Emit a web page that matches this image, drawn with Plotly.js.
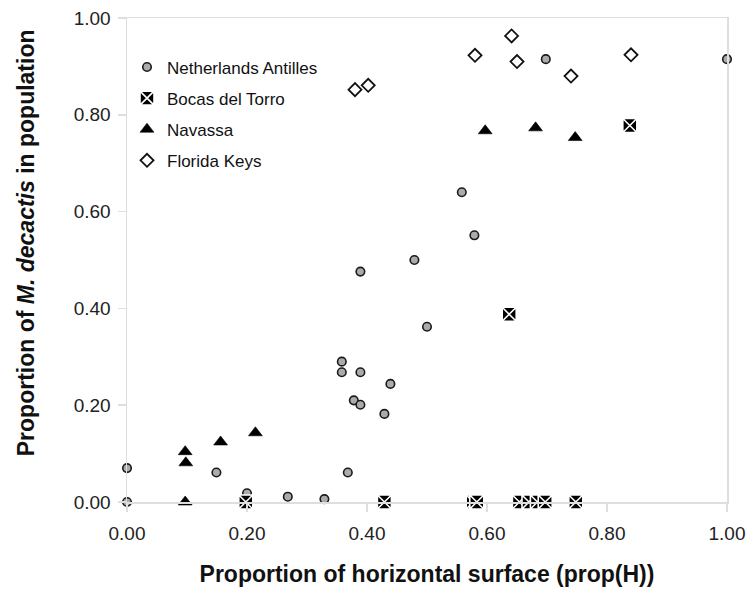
<!DOCTYPE html>
<html>
<head>
<meta charset="utf-8">
<script src="https://cdn.plot.ly/plotly-3.0.1.min.js"></script>
<style>html,body{margin:0;padding:0;background:#fff;}#chart{width:753px;height:594px;}</style>
</head>
<body>
<div id="chart"></div>
<script>
// Netherlands Antilles
const naX = [0.000, 0.000, 0.149, 0.200, 0.268, 0.329, 0.368, 0.358, 0.358, 0.389, 0.378, 0.389, 0.429, 0.439, 0.389, 0.479, 0.500, 0.558, 0.579, 0.698, 1.000];
const naY = [0.070, 0.000, 0.061, 0.018, 0.011, 0.006, 0.061, 0.290, 0.268, 0.268, 0.210, 0.201, 0.182, 0.244, 0.476, 0.500, 0.362, 0.640, 0.551, 0.915, 0.915];
// Bocas del Torro
const bdtX = [0.198, 0.429, 0.577, 0.583, 0.654, 0.670, 0.684, 0.697, 0.748, 0.637, 0.838];
const bdtY = [0.000, 0.000, 0.000, 0.000, 0.000, 0.000, 0.000, 0.000, 0.000, 0.388, 0.778];
// Navassa
const navX = [0.097, 0.098, 0.097, 0.156, 0.214, 0.597, 0.681, 0.747];
const navY = [0.104, 0.081, 0.000, 0.124, 0.143, 0.767, 0.773, 0.753];
// Florida Keys
const fkX = [0.380, 0.402, 0.580, 0.641, 0.650, 0.740, 0.840];
const fkY = [0.852, 0.861, 0.923, 0.963, 0.910, 0.880, 0.924];

const tickVals = [0, 0.2, 0.4, 0.6, 0.8, 1.0];
const tickText = ["0.00", "0.20", "0.40", "0.60", "0.80", "1.00"];

const FONT = "Liberation Sans, Arial, Helvetica, sans-serif";

const traces = [
  {x: naX, y: naY, name: "Netherlands Antilles", type: "scatter", mode: "markers", cliponaxis: false,
   legendgroup: "a",
   marker: {symbol: "circle", size: 8.5, color: "#ababab", line: {color: "#1a1a1a", width: 1.6}}},
  {x: bdtX, y: bdtY, name: "Bocas del Torro", type: "scatter", mode: "markers", cliponaxis: false,
   legendgroup: "b",
   marker: {symbol: "square-x", size: 14, color: "#000000", line: {color: "#ffffff", width: 1.6}}},
  {x: navX, y: navY, name: "Navassa", type: "scatter", mode: "markers", cliponaxis: false,
   legendgroup: "c",
   marker: {symbol: "triangle-up", size: 12, color: "#000000", line: {color: "#000000", width: 0.6}}},
  {x: fkX, y: fkY, name: "Florida Keys", type: "scatter", mode: "markers", cliponaxis: false,
   legendgroup: "d",
   marker: {symbol: "diamond", size: 10, color: "#ffffff", line: {color: "#111111", width: 1.8}}}
];

const axisCommon = {
  range: [0, 1], tickvals: tickVals, ticktext: tickText,
  showgrid: false, zeroline: false,
  showline: true, mirror: true, linecolor: "#dedede", linewidth: 1.5,
  ticks: "outside", ticklen: 8, tickcolor: "#dedede", tickwidth: 1.5,
  tickfont: {family: FONT, size: 19, color: "#222222"},
  fixedrange: true
};

const layout = {
  width: 753, height: 594,
  paper_bgcolor: "#ffffff", plot_bgcolor: "#ffffff",
  margin: {l: 127, r: 26, t: 18, b: 92, pad: 0},
  font: {family: FONT, color: "#222222"},
  showlegend: true,
  legend: {
    x: -0.0, y: 0.935, xanchor: "left", yanchor: "top",
    bgcolor: "rgba(255,255,255,0)", borderwidth: 0,
    font: {family: FONT, size: 17, color: "#111111"},
    tracegroupgap: 6
  },
  xaxis: Object.assign({}, axisCommon, {
    ticklabelstandoff: 6,
    title: {text: "<b>Proportion of horizontal surface (prop(H))</b>", font: {family: FONT, size: 23, color: "#111111"}, standoff: 22}
  }),
  yaxis: Object.assign({}, axisCommon, {ticklabelstandoff: 3}),
  annotations: [{
    xref: "paper", yref: "paper", x: -0.168, y: 0.535, xanchor: "center", yanchor: "middle",
    textangle: -90, showarrow: false,
    text: "<b>Proportion of <i>M. decactis</i> in population</b>",
    font: {family: FONT, size: 23, color: "#111111"}
  }]
};

Plotly.newPlot("chart", traces, layout, {displayModeBar: false, staticPlot: true});
</script>
</body>
</html>
